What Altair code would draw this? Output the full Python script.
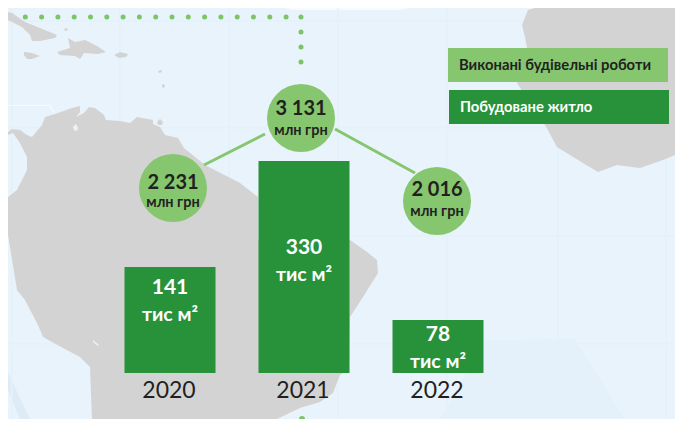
import altair as alt

years = ["2020", "2021", "2022"]
housing = [141, 330, 78]
works = [2231, 3131, 2016]
works_labels = ["2 231", "3 131", "2 016"]
unit_works = "млн грн"
unit_housing = "тис м²"
legend_works = "Виконані будівельні роботи"
legend_housing = "Побудоване житло"

BG = "#e9f3fb"
GRID = "#e3f1fa"
GRAY = "#d3d3d3"
LIGHT = "#85c66f"
DARK = "#28923a"
INK = "#231f20"
FONT = "Lato"
W, H = 667, 411
RIGHT, BOTTOM = 8 + W, 8 + H

# backdrop outlines, in the picture's own coordinates
frame = [(8, 8), (RIGHT, 8), (RIGHT, BOTTOM), (8, BOTTOM)]
south_america = [(0, 132), (12, 129), (20, 130), (27, 135), (32, 137), (42, 125), (45, 117), (55, 114), (72, 108),
                 (80, 106), (80, 112), (76, 117), (84, 113), (89, 107), (95, 108), (104, 115), (106, 120), (120, 121),
                 (130, 123), (137, 117), (153, 120), (153, 124), (160, 127), (165, 135), (178, 138), (184, 148),
                 (205, 165), (240, 183), (258, 197), (258, 240), (350, 240), (367, 252), (377, 260), (378, 273),
                 (363, 297), (350, 317), (349, 370), (340, 375), (333, 393), (320, 402), (300, 408), (277, 427),
                 (92, 427), (90, 367), (80, 357), (63, 348), (43, 337), (38, 325), (25, 300), (17, 290), (5, 235),
                 (0, 218), (7, 197), (17, 190), (27, 170), (27, 157), (20, 143), (13, 133), (5, 135), (5, 140), (0, 135)]
maracaibo = [(76, 124), (78, 128), (77, 131), (74, 130), (73, 127)]
sliver = [(93, 340), (99, 345), (98, 346), (93, 342)]
cuba = [(0, 12), (12, 13), (25, 22), (40, 28), (57, 35), (55, 38), (40, 41), (32, 41), (30, 35), (22, 27), (0, 20)]
jamaica = [(24, 52), (32, 53), (40, 56), (32, 59), (27, 59), (24, 55)]
hispaniola = [(68, 38), (75, 42), (85, 40), (97, 46), (106, 52), (98, 54), (84, 53), (80, 59), (75, 56), (60, 55), (57, 52), (70, 48)]
puerto_rico = [(114, 55), (120, 52), (128, 54), (126, 57), (119, 58)]
islets = [[(64, 29), (67, 28), (68, 30), (65, 31)], [(158, 71), (162, 70), (162, 72), (159, 73)],
          [(162, 84), (165, 85), (164, 88), (162, 87)], [(157, 122), (160, 119), (163, 122), (162, 125), (158, 125)],
          [(32, 3), (35, 3), (35, 5), (32, 5)]]
africa = [(535, 0), (528, 10), (522, 25), (525, 37), (527, 48), (517, 83), (545, 125), (557, 147), (583, 163),
          (598, 172), (617, 165), (640, 168), (663, 160), (683, 155), (683, 0)]
patch = [(485, 340), (575, 339), (625, 427), (440, 427)]
stripe = [(0, 373), (0, 390), (20, 427), (30, 427)]
hexagon = [(285, 0), (293, 10), (400, 10), (410, 0), (407, 0), (399, 8), (294, 8), (288, 0)]
hexagon2 = [(8, 105), (50, 105), (55, 113), (54, 113), (49, 106), (8, 106)]
v_grid = [11, 119, 228, 337, 446, 557, 665]
h_grid = [20, 127, 235, 343]


def feature(points, fill):
    ring = [[min(max(x, 8), RIGHT), min(max(y, 8), BOTTOM)] for x, y in points]
    ring.append(ring[0])
    return {"type": "Feature", "properties": {"fill": fill},
            "geometry": {"type": "Polygon", "coordinates": [ring]}}


features = [feature(frame, BG), feature(patch, "#e4f1fa"), feature(stripe, "#dcebf6"),
            feature(hexagon, "#f6fbfe"), feature(hexagon2, "#f8fcff")]
features += [feature([(v, 8), (v + 1.5, 8), (v + 1.5, BOTTOM), (v, BOTTOM)], GRID) for v in v_grid]
features += [feature([(8, v), (RIGHT, v), (RIGHT, v + 1.5), (8, v + 1.5)], GRID) for v in h_grid]
features += [feature(p, GRAY) for p in [south_america, cuba, jamaica, hispaniola, puerto_rico, africa] + islets]
features += [feature(p, BG) for p in [maracaibo, sliver]]

backdrop = alt.Chart(alt.InlineData(values=features)).mark_geoshape(strokeWidth=0).encode(
    fill=alt.Fill("properties.fill:N", scale=None)
).project(type="identity")

dots_h = alt.Chart(alt.InlineData(values=[{}])).mark_rule(
    color="#7cc566", strokeWidth=5, strokeCap="round", strokeDash=[0, 16.3], strokeDashOffset=3
).encode(x=alt.value(4), x2=alt.value(293), y=alt.value(9))
dots_v = alt.Chart(alt.InlineData(values=[{}])).mark_rule(
    color="#7cc566", strokeWidth=5, strokeCap="round", strokeDash=[0, 15]
).encode(x=alt.value(293), y=alt.value(9), y2=alt.value(69))
dot_low = alt.Chart(alt.InlineData(values=[{}])).mark_rule(
    color="#7cc566", strokeWidth=6, strokeCap="round"
).encode(x=alt.value(294), y=alt.value(411), y2=alt.value(410.9))

link_l = alt.Chart(alt.InlineData(values=[{"x": 196, "x2": 257, "y": 157, "y2": 126}])).mark_rule(
    color=LIGHT, strokeWidth=3).encode(x=alt.X("x:Q", scale=None), x2="x2:Q", y=alt.Y("y:Q", scale=None), y2="y2:Q")
link_r = alt.Chart(alt.InlineData(values=[{"x": 327, "x2": 407, "y": 121, "y2": 165}])).mark_rule(
    color=LIGHT, strokeWidth=3).encode(x=alt.X("x:Q", scale=None), x2="x2:Q", y=alt.Y("y:Q", scale=None), y2="y2:Q")

table = [{"year": y, "housing": h, "works": w, "label": l}
         for y, h, w, l in zip(years, housing, works, works_labels)]
base = alt.Chart(alt.InlineData(values=table))

x_band = alt.X("year:N", sort=years, axis=None,
               scale=alt.Scale(domain=years, range=[95, 497], paddingInner=0, paddingOuter=0))
y_bar = alt.Y("housing:Q", axis=None,
              scale=alt.Scale(domain=[0, 78, 141, 330], range=[365, 312, 259, 153], nice=False, zero=False))
y_works = alt.Y("works:Q", axis=None,
                scale=alt.Scale(domain=[2016, 2231, 3131], range=[193, 180, 110], nice=False, zero=False))
y_lab = alt.Y("housing:Q", axis=None,
              scale=alt.Scale(domain=[78, 141, 330], range=[327, 280, 240], nice=False, zero=False))

bars = base.mark_bar(size=91, color=DARK).encode(x=x_band, y=y_bar, y2=alt.Y2(datum=0))
bar_value = base.mark_text(font=FONT, fontSize=21, fontWeight="bold", color="white", baseline="middle").encode(
    x=x_band, y=y_lab, text="housing:Q")
bar_unit = base.mark_text(font=FONT, fontSize=19.5, fontWeight="bold", color="white", baseline="middle", dy=27).encode(
    x=x_band, y=y_lab, text=alt.value(unit_housing))
year_text = base.mark_text(font=FONT, fontSize=23, color=INK, baseline="middle", dx=-1).encode(
    x=x_band, y=alt.value(383), text="year:N")

circles = []
for year, dx, dy1, dy2 in [("2020", 3, -5, 15), ("2021", -3, -9, 13), ("2022", -1, -11, 11)]:
    one = base.transform_filter(alt.datum.year == year)
    circles.append(one.mark_circle(size=4624, color=LIGHT, opacity=1, xOffset=dx).encode(x=x_band, y=y_works))
    circles.append(one.mark_text(font=FONT, fontSize=20, fontWeight="bold", color=INK, baseline="middle", dx=dx, dy=dy1).encode(
        x=x_band, y=y_works, text="label:N"))
    circles.append(one.mark_text(font=FONT, fontSize=14.5, fontWeight="bold", color=INK, baseline="middle", dx=dx, dy=dy2).encode(
        x=x_band, y=y_works, text=alt.value(unit_works)))

leg = alt.InlineData(values=[{}])
leg1 = alt.Chart(leg).mark_rect(color=LIGHT).encode(x=alt.value(440), x2=alt.value(660), y=alt.value(40), y2=alt.value(74))
leg2 = alt.Chart(leg).mark_rect(color=DARK).encode(x=alt.value(441), x2=alt.value(661), y=alt.value(82), y2=alt.value(116))
leg1t = alt.Chart(leg).mark_text(font=FONT, fontSize=14.8, fontWeight="bold", color=INK, align="left", baseline="middle").encode(
    x=alt.value(451), y=alt.value(58), text=alt.value(legend_works))
leg2t = alt.Chart(leg).mark_text(font=FONT, fontSize=14.8, fontWeight="bold", color="white", align="left", baseline="middle").encode(
    x=alt.value(452), y=alt.value(100), text=alt.value(legend_housing))

chart = alt.layer(
    backdrop, dots_h, dots_v, dot_low, link_l, link_r,
    bars, bar_value, bar_unit, year_text, *circles,
    leg1, leg2, leg1t, leg2t
).resolve_scale(x="independent", y="independent", fill="independent").properties(
    width=W, height=H, padding=0, autosize=alt.AutoSizeParams(type="none")
).configure_view(strokeWidth=0)

chart.save("out.html", embed_options={"renderer": "svg", "actions": False})
